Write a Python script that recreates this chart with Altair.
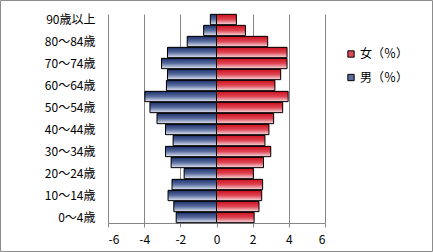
import altair as alt
import pandas as pd

ages = ["0〜4歳", "5〜9歳", "10〜14歳", "15〜19歳", "20〜24歳", "25〜29歳",
        "30〜34歳", "35〜39歳", "40〜44歳", "45〜49歳", "50〜54歳", "55〜59歳",
        "60〜64歳", "65〜69歳", "70〜74歳", "75〜79歳", "80〜84歳", "85〜89歳",
        "90歳以上"]
male = [2.23, 2.36, 2.68, 2.46, 1.79, 2.51, 2.82, 2.40, 2.82, 3.29, 3.68, 3.96,
        2.77, 2.71, 3.04, 2.71, 1.62, 0.71, 0.34]
female = [2.08, 2.35, 2.50, 2.55, 2.04, 2.60, 3.00, 2.68, 2.90, 3.16, 3.66, 3.96,
          3.23, 3.55, 3.90, 3.90, 2.83, 1.60, 1.10]
series = ["女（％）", "男（％）"]
x_ticks = [-6, -4, -2, 0, 2, 4, 6]
shown_labels = ages[::2]

rows = []
for a, m, f in zip(ages, male, female):
    rows.append({"age": a, "sex": series[1], "value": -m})
    rows.append({"age": a, "sex": series[0], "value": f})
df = pd.DataFrame(rows)

FONT = "Noto Sans CJK JP"

blue_grad = alt.LinearGradient(
    gradient="linear", x1=0, x2=0, y1=0, y2=1,
    stops=[alt.GradientStop(color="#1c2f6a", offset=0),
           alt.GradientStop(color="#5b6ea0", offset=0.5),
           alt.GradientStop(color="#e3e7f2", offset=1)])
red_grad = alt.LinearGradient(
    gradient="linear", x1=0, x2=0, y1=0, y2=1,
    stops=[alt.GradientStop(color="#cc0e1c", offset=0),
           alt.GradientStop(color="#de4654", offset=0.5),
           alt.GradientStop(color="#f7dde1", offset=1)])

y_enc = alt.Y("age:N", sort=ages[::-1],
              scale=alt.Scale(paddingInner=0.06, paddingOuter=0.03),
              axis=alt.Axis(title=None, values=shown_labels, domain=False, ticks=False,
                            grid=False, labelFont=FONT, labelFontSize=12,
                            labelColor="#000000", labelPadding=13))
x_enc = alt.X("value:Q", scale=alt.Scale(domain=[-6, 6]),
              axis=alt.Axis(title=None, values=x_ticks, labelExpr="'' + datum.value",
                            grid=True, gridColor="#868686", gridWidth=1,
                            domainColor="#868686", tickColor="#868686", tickSize=4,
                            labelFont=FONT, labelFontSize=12, labelColor="#000000",
                            labelPadding=7))

base = alt.Chart(df).encode(y=y_enc, x=x_enc)

legend_layer = base.mark_bar().encode(
    color=alt.Color("sex:N",
                    scale=alt.Scale(domain=series, range=["#df4a56", "#5b6c9f"]),
                    legend=alt.Legend(title=None, orient="none", legendX=237, legendY=34,
                                      symbolType="square", symbolSize=40,
                                      symbolStrokeColor="#000000", symbolStrokeWidth=1,
                                      labelFont=FONT, labelFontSize=12,
                                      labelColor="#000000", rowPadding=11.5,
                                      labelOffset=3))
)

male_layer = base.transform_filter(alt.datum.sex == series[1]).mark_bar(
    fill=blue_grad, stroke="#000000", strokeWidth=1)
female_layer = base.transform_filter(alt.datum.sex == series[0]).mark_bar(
    fill=red_grad, stroke="#000000", strokeWidth=1)

frame = alt.Chart(pd.DataFrame({"k": [0]})).mark_rect(
    fillOpacity=0, stroke="#8c8c8c", strokeWidth=1).encode(
    x=alt.value(-107.5), x2=alt.value(324.5), y=alt.value(-13.5), y2=alt.value(237.5))

chart = alt.layer(legend_layer, male_layer, female_layer, frame).properties(
    width=217, height=209,
    padding={"left": 108, "top": 14, "right": 108, "bottom": 29},
    autosize=alt.AutoSizeParams(type="none"),
    background="#ffffff",
).configure_view(strokeWidth=0)

chart.save("out.html", embed_options={"renderer": "svg", "actions": False})
